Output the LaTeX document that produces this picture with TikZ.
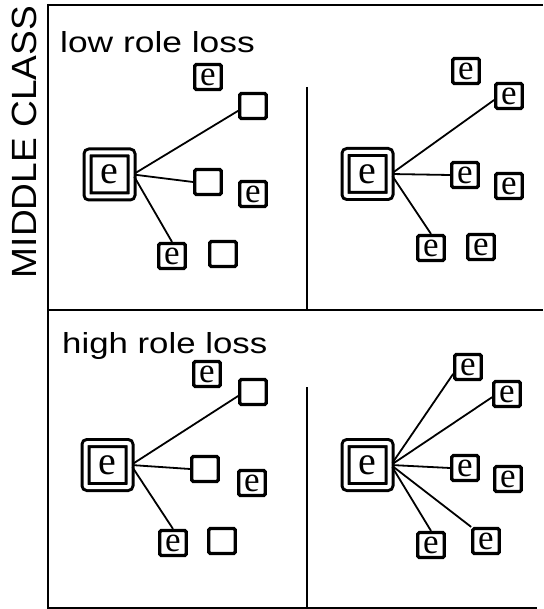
\documentclass[tikz,border=0pt]{standalone}
\usepackage{fontspec}
\usepackage{graphicx}
\setmainfont{Liberation Sans}
\newfontfamily\efont{Liberation Serif}
\begin{document}
\begin{tikzpicture}[x=1pt,y=-1pt,
  frameline/.style={line width=2.3pt},
  ebox/.style={draw,line width=3.2pt,rounded corners=1.5pt,minimum width=26.5pt,minimum height=25pt,inner sep=0pt,text height=17pt,text depth=0pt,font=\efont\fontsize{35}{35}\selectfont},
  bigbox/.style={draw,line width=3pt,double,double distance=4pt,rounded corners=2pt,minimum size=44pt,inner sep=0pt,text height=19pt,text depth=0pt,font=\efont\fontsize{40}{40}\selectfont},
  link/.style={line width=1.8pt,shorten <=2.5pt},
  label/.style={anchor=base west,inner sep=0pt,text depth=0pt,font=\fontsize{29}{29}\selectfont}]
\useasboundingbox (0,0) rectangle (543,609);
% frame
\draw[frameline] (48,5) -- (543,5);
\draw[frameline] (48,4) -- (48,609);
\draw[frameline] (48,310) -- (543,310);
\draw[frameline] (48,608) -- (537,608);
\draw[frameline] (307,87) -- (307,311);
\draw[frameline] (307,387) -- (307,608);
% labels
\node[rotate=90,inner sep=0pt,font=\fontsize{35}{35}\selectfont] (mc) at (24.5,142) {\scalebox{1.06}[1]{MIDDLE CLASS}};
\node[label] (low) at (60,53) {\scalebox{1.22}[1]{low role loss}};
\node[label] (high) at (62,353) {\scalebox{1.2}[1]{high role loss}};
% top-left
\node[bigbox] (A1) at (109.5,174.5) {e};
\node[ebox] (a1) at (208,77) {e};
\node[ebox] (b1) at (253,106) {};
\node[ebox] (c1) at (208,182) {};
\node[ebox] (d1) at (253,194) {e};
\node[ebox] (f1) at (172,256) {e};
\node[ebox] (g1) at (223,254) {};
\draw[link] (A1.east) -- (b1.198);
\draw[link] (A1.east) -- (c1.west);
\draw[link] (A1.east) -- (f1.north);
% top-right
\node[bigbox] (A2) at (367.5,174) {e};
\node[ebox] (a2) at (466,71) {e};
\node[ebox] (b2) at (509,96) {e};
\node[ebox] (c2) at (465,175) {e};
\node[ebox] (d2) at (509,186) {e};
\node[ebox] (f2) at (431,248) {e};
\node[ebox] (g2) at (481,247) {e};
\draw[link] (A2.east) -- (b2.195);
\draw[link] (A2.east) -- (c2.west);
\draw[link] (A2.east) -- (f2.north);
% bottom-left
\node[bigbox] (A3) at (107.5,465) {e};
\node[ebox] (a3) at (207,374) {e};
\node[ebox] (b3) at (253,392) {};
\node[ebox] (c3) at (205,469) {};
\node[ebox] (d3) at (252,483) {e};
\node[ebox] (f3) at (173,543) {e};
\node[ebox] (g3) at (222,541) {};
\draw[link] (A3.east) -- (b3.195);
\draw[link] (A3.east) -- (c3.west);
\draw[link] (A3.east) -- (f3.north);
% bottom-right
\node[bigbox] (A4) at (367.5,465) {e};
\node[ebox] (a4) at (468,367) {e};
\node[ebox] (b4) at (507,394) {e};
\node[ebox] (c4) at (465,468) {e};
\node[ebox] (d4) at (508,479) {e};
\node[ebox] (f4) at (431,545) {e};
\node[ebox] (g4) at (486,541) {e};
\draw[link] (A4.east) -- (a4.205);
\draw[link] (A4.east) -- (b4.192);
\draw[link] (A4.east) -- (c4.west);
\draw[link] (A4.east) -- (f4.north);
\draw[link] (A4.east) -- (g4.north west);
\end{tikzpicture}
\end{document}
